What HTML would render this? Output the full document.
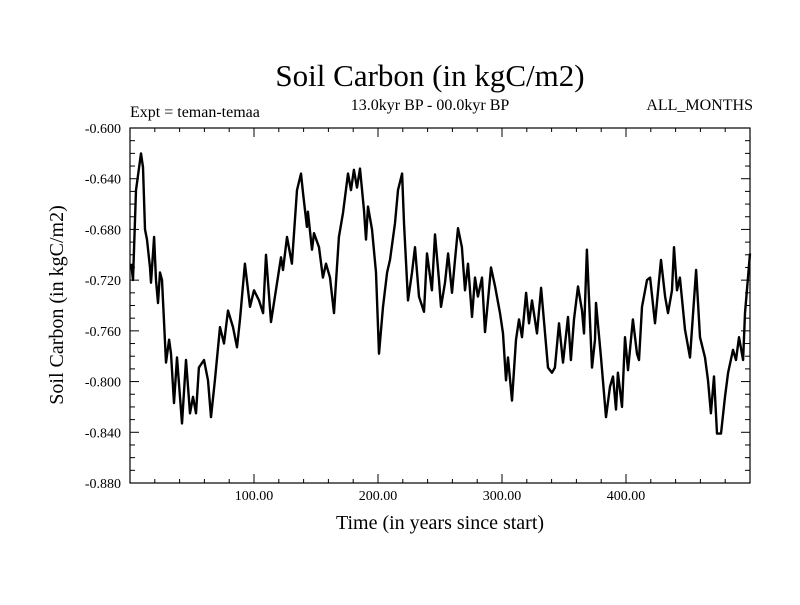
<!DOCTYPE html>
<html><head><meta charset="utf-8"><style>
body{margin:0;background:#fff}
svg text{font-family:"Liberation Serif",serif;fill:#000}
</style></head><body>
<svg id="chart" width="800" height="600">
<text x="430" y="86" font-size="31" text-anchor="middle">Soil Carbon (in kgC/m2)</text>
<text x="430" y="110" font-size="16" text-anchor="middle">13.0kyr BP - 00.0kyr BP</text>
<text x="130" y="117" font-size="16">Expt = teman-temaa</text>
<text x="753" y="110" font-size="16" text-anchor="end">ALL_MONTHS</text>
<text x="440" y="529" font-size="20" text-anchor="middle">Time (in years since start)</text>
<text x="0" y="0" font-size="20" text-anchor="middle" transform="translate(63,305) rotate(-90)">Soil Carbon (in kgC/m2)</text>
<g id="axes"></g>
<path id="series" fill="none" stroke="#000" stroke-width="2.4" stroke-linejoin="round"></path>
<rect x="130" y="128" width="620" height="355" fill="none" stroke="#000" stroke-width="1.2"></rect>
</svg>
<script>
const years=[1,1.5,2.4,4.8,8.9,10.5,12.1,13.7,16.1,16.9,19.4,21,22.6,24.2,25.8,29,31.5,33.1,35.5,37.9,41.9,45.2,48.4,50.8,53.2,55.6,59.7,62.9,65.3,68.5,72.6,75.8,79,83.1,86.3,88.7,92.7,96.8,100,104,107.3,109.7,113.7,117.7,121.8,123.4,126.6,130.6,134.7,137.9,139.5,142.7,143.5,146.8,148.4,152.4,155.6,158.1,161.3,164.5,168.5,171.8,175.8,178.2,180.6,183.1,185.5,188.7,190.3,191.9,195.2,198.4,200.8,204,207.3,209.7,213.7,216.1,219.4,221,224.2,227.4,229.8,233.1,237.1,239.5,243.5,246,249.2,250.8,254,256.5,259.7,262.1,264.5,267.7,270.2,272.6,275.8,278.2,280.6,283.9,286.3,288.7,291.1,294.4,298.4,300.8,303.2,304.8,308.1,311.3,313.7,316.1,319.4,321.8,324.2,328.2,331.5,337.1,340.3,342.7,346,349.2,353.2,355.6,358.1,361.3,364.5,366.1,368.5,372.6,375,375.8,379.8,383.9,387.1,389.5,391.9,393.5,396.8,399.2,401.6,405.6,408.9,410.5,412.9,416.9,419.4,423.4,428.2,431.5,433.9,437.1,438.7,441.1,443.5,447.6,451.6,456.5,459.7,463.7,466.1,468.5,471,473.4,476.6,479.8,482.3,486.3,488.7,491.1,494.4,496,500];
const values=[-0.707,-0.712,-0.720,-0.649,-0.620,-0.631,-0.680,-0.688,-0.710,-0.722,-0.686,-0.720,-0.738,-0.714,-0.720,-0.785,-0.767,-0.778,-0.817,-0.781,-0.833,-0.783,-0.825,-0.812,-0.825,-0.789,-0.783,-0.799,-0.828,-0.799,-0.757,-0.770,-0.744,-0.757,-0.773,-0.751,-0.707,-0.741,-0.728,-0.736,-0.746,-0.700,-0.753,-0.728,-0.702,-0.712,-0.686,-0.707,-0.649,-0.636,-0.651,-0.678,-0.666,-0.696,-0.683,-0.694,-0.718,-0.707,-0.718,-0.746,-0.686,-0.667,-0.636,-0.649,-0.633,-0.647,-0.632,-0.665,-0.688,-0.662,-0.680,-0.714,-0.778,-0.741,-0.714,-0.704,-0.675,-0.649,-0.636,-0.675,-0.736,-0.714,-0.694,-0.733,-0.745,-0.699,-0.728,-0.684,-0.720,-0.741,-0.722,-0.699,-0.730,-0.704,-0.679,-0.694,-0.728,-0.707,-0.749,-0.718,-0.733,-0.718,-0.761,-0.736,-0.710,-0.725,-0.746,-0.762,-0.799,-0.781,-0.815,-0.767,-0.751,-0.765,-0.730,-0.754,-0.736,-0.762,-0.726,-0.789,-0.793,-0.789,-0.754,-0.785,-0.749,-0.783,-0.751,-0.725,-0.744,-0.762,-0.696,-0.789,-0.767,-0.738,-0.781,-0.828,-0.804,-0.796,-0.822,-0.793,-0.820,-0.765,-0.791,-0.751,-0.778,-0.783,-0.741,-0.720,-0.718,-0.754,-0.704,-0.733,-0.746,-0.728,-0.694,-0.728,-0.718,-0.759,-0.781,-0.712,-0.765,-0.781,-0.799,-0.825,-0.796,-0.841,-0.841,-0.812,-0.793,-0.775,-0.783,-0.765,-0.783,-0.746,-0.699];
const yTicks=[-0.600,-0.640,-0.680,-0.720,-0.760,-0.800,-0.840,-0.880];
const xTicks=[100,200,300,400];
const X0=130,X1=750,Y0=128,Y1=483;
function xs(t){return X0+(t-0)/(500-0)*(X1-X0);}
function ys(v){return Y0+(-0.6-v)/(0.28)*(Y1-Y0);}
const NS="http://www.w3.org/2000/svg";
const ax=document.getElementById('axes');
function line(x1,y1,x2,y2,name){const l=document.createElementNS(NS,'line');l.setAttribute('x1',x1);l.setAttribute('y1',y1);l.setAttribute('x2',x2);l.setAttribute('y2',y2);l.setAttribute('stroke','#000');l.setAttribute('stroke-width','1');


ax.appendChild(l);}
for(let i=0;i<=28;i++){const v=-0.6-i*0.01,y=ys(v),len=(i%4===0)?9:5;line(X0,y,X0+len,y,'y-tick');line(X1,y,X1-len,y,'y-tick-right');}
for(let t=20;t<500;t+=20){const x=xs(t),len=(t%100===0)?9:4;line(x,Y1,x,Y1-len,'x-tick');line(x,Y0,x,Y0+len,'x-tick-top');}
yTicks.forEach(v=>{const t=document.createElementNS(NS,'text');t.setAttribute('x',121);t.setAttribute('y',ys(v)+5);t.setAttribute('font-size','14');t.setAttribute('text-anchor','end');t.textContent=v.toFixed(3);


ax.appendChild(t);});
xTicks.forEach(v=>{const t=document.createElementNS(NS,'text');t.setAttribute('x',xs(v));t.setAttribute('y',500);t.setAttribute('font-size','14');t.setAttribute('text-anchor','middle');t.textContent=v.toFixed(2);


ax.appendChild(t);});
document.getElementById('series').setAttribute('d',years.map((t,i)=>(i?'L':'M')+xs(t).toFixed(1)+' '+ys(values[i]).toFixed(1)).join(' '));
</script>
</body></html>
